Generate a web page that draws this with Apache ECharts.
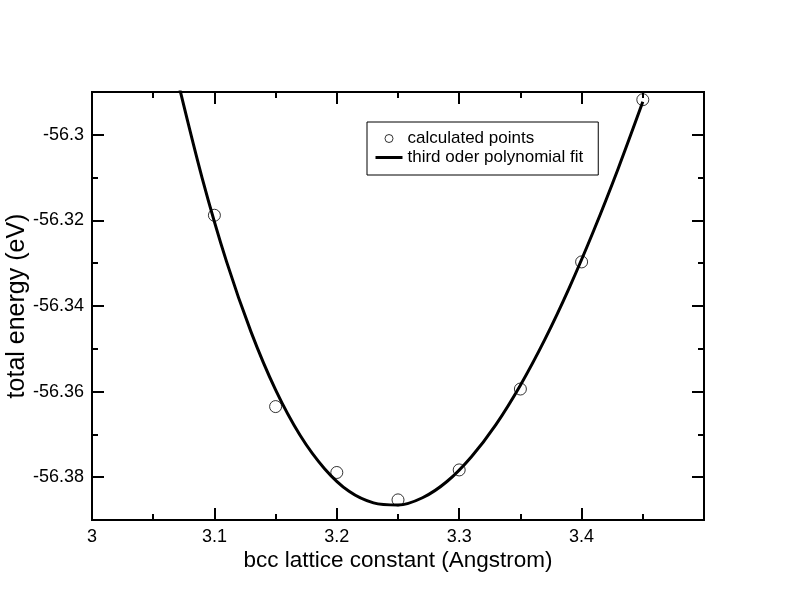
<!DOCTYPE html>
<html>
<head>
<meta charset="utf-8">
<script src="https://cdn.jsdelivr.net/npm/echarts@6/dist/echarts.min.js"></script>
<style>
html,body{margin:0;padding:0;background:#fff;}
#chart{width:792px;height:612px;}
</style>
</head>
<body>
<div id="chart"></div>
<script>
// ---- data ----
var pointX = [3.1, 3.15, 3.2, 3.25, 3.3, 3.35, 3.4, 3.45];
var pointY = [-56.3188, -56.3635, -56.3789, -56.3853, -56.3783, -56.3594, -56.3297, -56.2918];

var fitX = [3.07, 3.09, 3.11, 3.13, 3.15, 3.17, 3.19, 3.21, 3.23, 3.25, 3.27, 3.29, 3.31, 3.33, 3.35, 3.37, 3.39, 3.41, 3.43, 3.45];
var fitY = [-56.2873, -56.3101, -56.3297, -56.3461, -56.3596, -56.3702, -56.3780, -56.3833, -56.3860, -56.3865,
            -56.3848, -56.3810, -56.3752, -56.3677, -56.3585, -56.3478, -56.3357, -56.3223, -56.3078, -56.2923];

var xTickLabels = ['3', '3.1', '3.2', '3.3', '3.4'];
var xMinorTicks = [3.05, 3.15, 3.25, 3.35, 3.45];
var yTickLabels = ['-56.38', '-56.36', '-56.34', '-56.32', '-56.3'];
var yMinorTicks = [-56.37, -56.35, -56.33, -56.31];

var seriesNames = ['calculated points', 'third oder polynomial fit'];
var xTitle = 'bcc lattice constant (Angstrom)';
var yTitle = 'total energy (eV)';

// ---- chart ----
var xMajor = xTickLabels.map(Number);
var yMajor = yTickLabels.map(Number);
var FONT = 'Liberation Sans, Arial, Helvetica, sans-serif';
var X_MIN = 3, X_MAX = 3.5, Y_MIN = -56.39, Y_MAX = -56.29;

function mkAxis(kind, pos, ticks, len, withLabels, labels) {
  var ax = {
    type: 'value', gridIndex: 0, position: pos,
    min: kind === 'x' ? X_MIN : Y_MIN,
    max: kind === 'x' ? X_MAX : Y_MAX,
    axisLine: {show: false},
    splitLine: {show: false},
    axisTick: {show: true, inside: true, length: len, customValues: ticks,
               lineStyle: {color: '#000', width: 2}},
    axisLabel: {show: false}
  };
  if (withLabels) {
    ax.axisLabel = {
      show: true, customValues: ticks, margin: 8, color: '#000',
      fontSize: 18, fontFamily: FONT,
      formatter: function (v) {
        for (var i = 0; i < ticks.length; i++) {
          if (Math.abs(ticks[i] - v) < 1e-6) return labels[i];
        }
        return '';
      }
    };
  }
  return ax;
}

var xAxes = [
  mkAxis('x', 'bottom', xMajor, 12, true, xTickLabels),
  mkAxis('x', 'bottom', xMinorTicks, 6, false),
  mkAxis('x', 'top', xMajor, 12, false),
  mkAxis('x', 'top', xMinorTicks, 6, false)
];
xAxes[0].name = xTitle;
xAxes[0].nameLocation = 'middle';
xAxes[0].nameGap = 29;
xAxes[0].nameMoveOverlap = false;
xAxes[0].nameTextStyle = {fontSize: 22.5, color: '#000', fontFamily: FONT};

var yAxes = [
  mkAxis('y', 'left', yMajor, 12, true, yTickLabels),
  mkAxis('y', 'left', yMinorTicks, 6, false),
  mkAxis('y', 'right', yMajor, 12, false),
  mkAxis('y', 'right', yMinorTicks, 6, false)
];
yAxes[0].name = yTitle;
yAxes[0].nameLocation = 'middle';
yAxes[0].nameGap = 62;
yAxes[0].nameMoveOverlap = false;
yAxes[0].nameTextStyle = {fontSize: 25, color: '#000', fontFamily: FONT};

var chart = echarts.init(document.getElementById('chart'), null, {renderer: 'canvas'});
chart.setOption({
  animation: false,
  backgroundColor: '#fff',
  grid: {left: 92, right: 88, top: 92, bottom: 92, show: true, containLabel: false,
         outerBoundsMode: 'none',
         borderColor: '#000', borderWidth: 2, backgroundColor: 'transparent'},
  xAxis: xAxes,
  yAxis: yAxes,
  legend: {
    orient: 'vertical', left: 367, top: 122,
    data: [
      {name: seriesNames[0], itemStyle: {color: 'rgba(0,0,0,0)', borderColor: '#000', borderWidth: 1}},
      {name: seriesNames[1], itemStyle: {color: 'rgba(0,0,0,0)', borderColor: 'rgba(0,0,0,0)', borderWidth: 0},
       lineStyle: {color: '#000', width: 3}}
    ],
    itemWidth: 27, itemHeight: 8, itemGap: 0, itemTextGap: 13,
    padding: [7, 15, 8, 7],
    borderColor: '#000', borderWidth: 1, backgroundColor: '#fff',
    selectedMode: false,
    textStyle: {fontSize: 17, color: '#000', fontFamily: FONT, lineHeight: 19}
  },
  series: [
    {
      name: seriesNames[0], type: 'scatter',
      data: pointX.map(function (x, i) { return [x, pointY[i]]; }),
      symbol: 'circle', symbolSize: 12,
      itemStyle: {color: 'rgba(0,0,0,0)', borderColor: '#000', borderWidth: 1},
      z: 2
    },
    {
      name: seriesNames[1], type: 'line',
      data: fitX.map(function (x, i) { return [x, fitY[i]]; }),
      smooth: 0.3, symbol: 'none', showSymbol: false, clip: true,
      lineStyle: {color: '#000', width: 3},
      itemStyle: {color: '#000'},
      z: 3
    }
  ]
});
</script>
</body>
</html>
